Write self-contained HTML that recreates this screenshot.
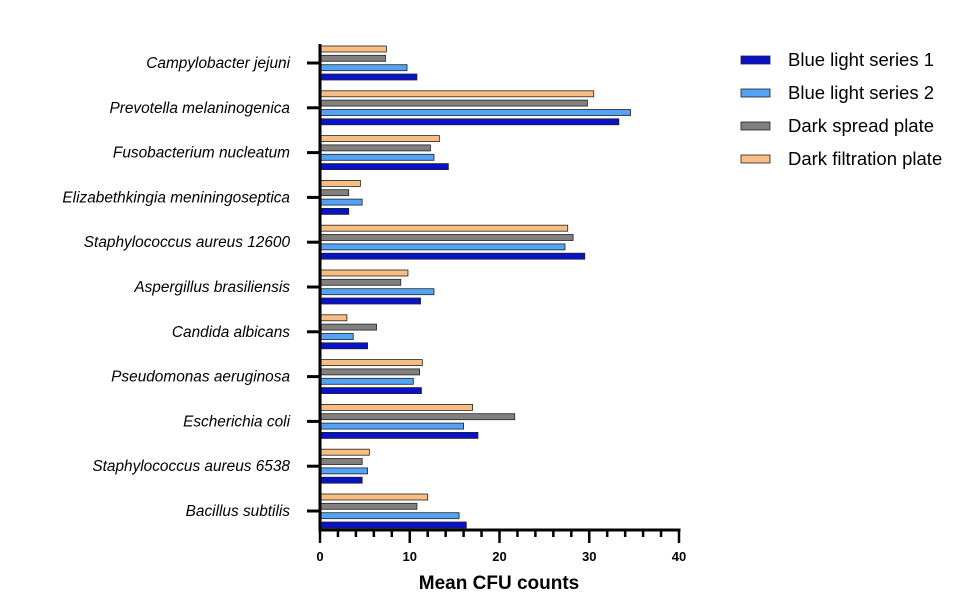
<!DOCTYPE html>
<html><head><meta charset="utf-8"><style>
body{margin:0;background:#fff;}
svg text{font-family:"Liberation Sans",Arial,sans-serif;}
</style></head><body>
<svg id="chart" width="980" height="611" viewBox="0 0 980 611" xmlns="http://www.w3.org/2000/svg"></svg>
<script>
const categories=["Campylobacter jejuni","Prevotella melaninogenica","Fusobacterium nucleatum","Elizabethkingia meniningoseptica","Staphylococcus aureus 12600","Aspergillus brasiliensis","Candida albicans","Pseudomonas aeruginosa","Escherichia coli","Staphylococcus aureus 6538","Bacillus subtilis"];
const seriesNames=["Blue light series 1","Blue light series 2","Dark spread plate","Dark filtration plate"];
const blue1=[10.8,33.3,14.3,3.2,29.5,11.2,5.3,11.3,17.6,4.7,16.3];
const blue2=[9.7,34.6,12.7,4.7,27.3,12.7,3.7,10.4,16.0,5.3,15.5];
const darkSpread=[7.3,29.8,12.3,3.2,28.2,9.0,6.3,11.1,21.7,4.7,10.8];
const darkFiltration=[7.4,30.5,13.3,4.5,27.6,9.8,3.0,11.4,17.0,5.5,12.0];
const xTicks=[0,10,20,30,40];
const NS="http://www.w3.org/2000/svg";
const svg=document.getElementById('chart');
const x0=320,x1=679,xMax=40;
const xs=v=>x0+v/xMax*(x1-x0);
const yTop=63,yStep=44.8;
const yc=i=>yTop+i*yStep;
const fills=["#0a12c8","#52a2f5","#808080","#f6bd84"];
const series=[blue1,blue2,darkSpread,darkFiltration];
const offs=[14,4.7,-4.7,-14];
function el(t,a){const e=document.createElementNS(NS,t);for(const k in a)e.setAttribute(k,a[k]);svg.appendChild(e);return e;}
series.forEach((s,si)=>{s.forEach((v,i)=>{
 const r=el('rect',{x:x0+1,y:yc(i)+offs[si]-3,width:Math.max(0,xs(v)-x0-1),height:6,fill:fills[si],stroke:'#222','stroke-width':0.8});
 
 
});});
const ya=el('line',{x1:x0,y1:44,x2:x0,y2:531,stroke:'#000','stroke-width':3});

categories.forEach((c,i)=>{
 el('line',{x1:307,y1:yc(i),x2:x0,y2:yc(i),stroke:'#000','stroke-width':3});
 const t=el('text',{x:290,y:yc(i)+5,'text-anchor':'end','font-size':15.4,'font-style':'italic',fill:'#000'});
 t.textContent=c;
 
});
const xa=el('line',{x1:x0-1.5,y1:530,x2:x1+1.5,y2:530,stroke:'#000','stroke-width':3});

for(let v=0;v<=xMax;v+=2){el('line',{x1:xs(v),y1:530,x2:xs(v),y2:v%10===0?543:537,stroke:'#000','stroke-width':2.5});}
xTicks.forEach(v=>{const t=el('text',{x:xs(v),y:561,'text-anchor':'middle','font-size':13,'font-weight':'bold'});t.textContent=v;
 });
const xt=el('text',{x:499,y:589,'text-anchor':'middle','font-size':19,'font-weight':'bold'});xt.textContent="Mean CFU counts";

seriesNames.forEach((n,i)=>{
 const y=60+i*33;
 const r=el('rect',{x:741,y:y-4,width:29,height:8,fill:fills[i],stroke:'#222','stroke-width':0.8});
 
 const t=el('text',{x:788,y:y+6,'font-size':18.5});t.textContent=n;
 
});
</script>
</body></html>
